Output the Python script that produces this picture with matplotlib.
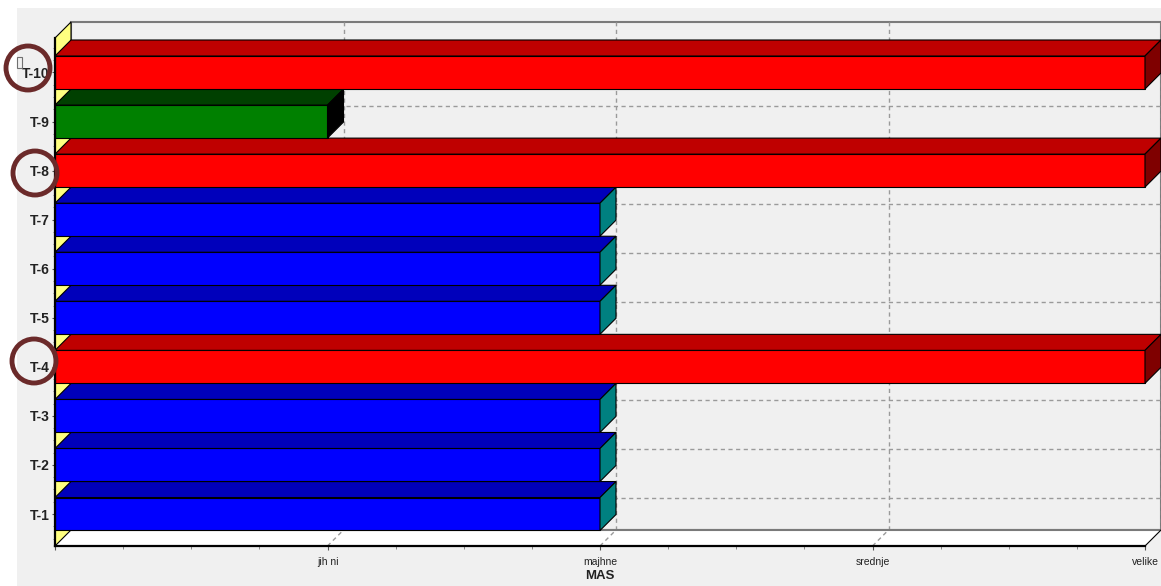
import numpy as np
import matplotlib
matplotlib.use('Agg')
import matplotlib.pyplot as plt
from matplotlib.patches import Polygon, Rectangle, Circle
from matplotlib.transforms import IdentityTransform

## data
categories = ['T-1', 'T-2', 'T-3', 'T-4', 'T-5', 'T-6', 'T-7', 'T-8', 'T-9', 'T-10']
levels = [2, 2, 2, 4, 2, 2, 2, 4, 1, 4]
level_names = ['', 'jih ni', 'majhne', 'srednje', 'velike']
circled = ['T-10', 'T-8', 'T-4']

## face colours per level: front, top, side
face_colors = {
    1: ('#008000', '#004000', '#000000'),
    2: ('#0000ff', '#0000bb', '#008080'),
    4: ('#ff0000', '#bf0000', '#7f0000'),
}

plt.rcParams['font.family'] = ['Liberation Sans', 'DejaVu Sans']
plt.rcParams['lines.scale_dashes'] = False

W, H = 1161, 586
fig = plt.figure(figsize=(W / 100., H / 100.), dpi=100)
fig.patch.set_facecolor('white')
fig.add_artist(Rectangle((17, 0), W - 17, H - 8, transform=IdentityTransform(),
                         facecolor='#f0f0f0', edgecolor='none', zorder=-10))

## front plane of the chart
left, right, bottom, top = 55, 1145, 546, 38
ax = fig.add_axes([left / W, (H - bottom) / H, (right - left) / W, (bottom - top) / H])
ax.patch.set_visible(False)
ax.autoscale(False)
ax.set_xlim(0, 4)
ax.set_ylim(-0.652, 9.703)
ybot, ytop = ax.get_ylim()

## 3d depth (16 px) in data units
depth = 16
dx = depth * 4.0 / (right - left)
dy = depth * (ytop - ybot) / (bottom - top)
half = 0.336

grid_kw = dict(color='#9a9a9a', lw=1, dashes=(3, 2.5), clip_on=False)

# back wall
ax.add_patch(Rectangle((dx, ybot + dy), 4, ytop - ybot, facecolor='#f0f0f0',
                       edgecolor='#7a7a7a', lw=1.5, clip_on=False, zorder=1))
for i in range(len(categories)):
    ax.plot([dx, 4 + dx], [i + dy, i + dy], zorder=2, **grid_kw)
for k in range(1, 5):
    ax.plot([k + dx, k + dx], [ybot + dy, ytop + dy], zorder=2, **grid_kw)

# floor
ax.add_patch(Polygon([(0, ybot), (4, ybot), (4 + dx, ybot + dy), (dx, ybot + dy)],
                     closed=True, facecolor='white', edgecolor='none', clip_on=False, zorder=3))
ax.plot([dx, 4 + dx], [ybot + dy, ybot + dy], color='#7a7a7a', lw=1.5, clip_on=False, zorder=3.5)
ax.plot([4, 4 + dx], [ybot, ybot + dy], color='black', lw=0.8, clip_on=False, zorder=3.5)
for k in range(1, 4):
    ax.plot([k, k + dx], [ybot, ybot + dy], zorder=3.6, **grid_kw)

# left wall
ax.add_patch(Polygon([(0, ybot), (0, ytop), (dx, ytop + dy), (dx, ybot + dy)],
                     closed=True, facecolor='#ffff80', edgecolor='black', lw=0.8,
                     clip_on=False, zorder=4))

# bars
for i, v in enumerate(levels):
    front, topc, side = face_colors[v]
    y0, y1 = i - half, i + half
    ax.add_patch(Rectangle((0, y0), v, y1 - y0, facecolor=front, edgecolor='black',
                           lw=0.8, clip_on=False, zorder=5))
    ax.add_patch(Polygon([(0, y1), (v, y1), (v + dx, y1 + dy), (dx, y1 + dy)], closed=True,
                         facecolor=topc, edgecolor='black', lw=0.8, clip_on=False, zorder=5))
    ax.add_patch(Polygon([(v, y0), (v + dx, y0 + dy), (v + dx, y1 + dy), (v, y1)], closed=True,
                         facecolor=side, edgecolor='black', lw=0.8, clip_on=False, zorder=5))

## axes
for s in ['top', 'right']:
    ax.spines[s].set_visible(False)
for s in ['left', 'bottom']:
    ax.spines[s].set_linewidth(1.6)
    ax.spines[s].set_color('black')
    ax.spines[s].set_zorder(10)

ax.set_yticks(range(len(categories)))
ax.set_yticklabels(categories, fontsize=10, fontweight='bold', color='#222222')
ax.set_yticks(np.arange(-0.5, 9.6, 0.25), minor=True)
ax.set_xticks(range(len(level_names)))
ax.set_xticklabels(level_names, fontsize=7.5, color='#222222')
ax.set_xticks(np.arange(0, 4.01, 0.25), minor=True)
ax.tick_params(axis='y', which='major', length=2.5, width=0.8, pad=1.5, color='#555555')
ax.tick_params(axis='y', which='minor', length=1.5, width=0.6, color='#777777')
ax.tick_params(axis='x', which='major', length=3, width=0.8, pad=5, color='#555555')
ax.tick_params(axis='x', which='minor', length=2.5, width=0.6, color='#777777')
ax.set_xlabel('MAS', fontsize=9.5, fontweight='bold', color='#222222', labelpad=2)

## hand-drawn marks around some labels
circle_pos = {'T-10': (28, 68, 22), 'T-8': (35, 173, 22), 'T-4': (34, 361, 22)}
for name in circled:
    cx, cy, r = circle_pos[name]
    fig.add_artist(Circle((cx, H - cy), r, transform=IdentityTransform(), fill=False,
                          edgecolor='#6b2a2a', lw=3.5, zorder=20))
fig.add_artist(Rectangle((17, H - 68), 5, 11, transform=IdentityTransform(), fill=False,
                         edgecolor='#707070', lw=0.8, zorder=19))

plt.savefig('out.png', dpi=100)
